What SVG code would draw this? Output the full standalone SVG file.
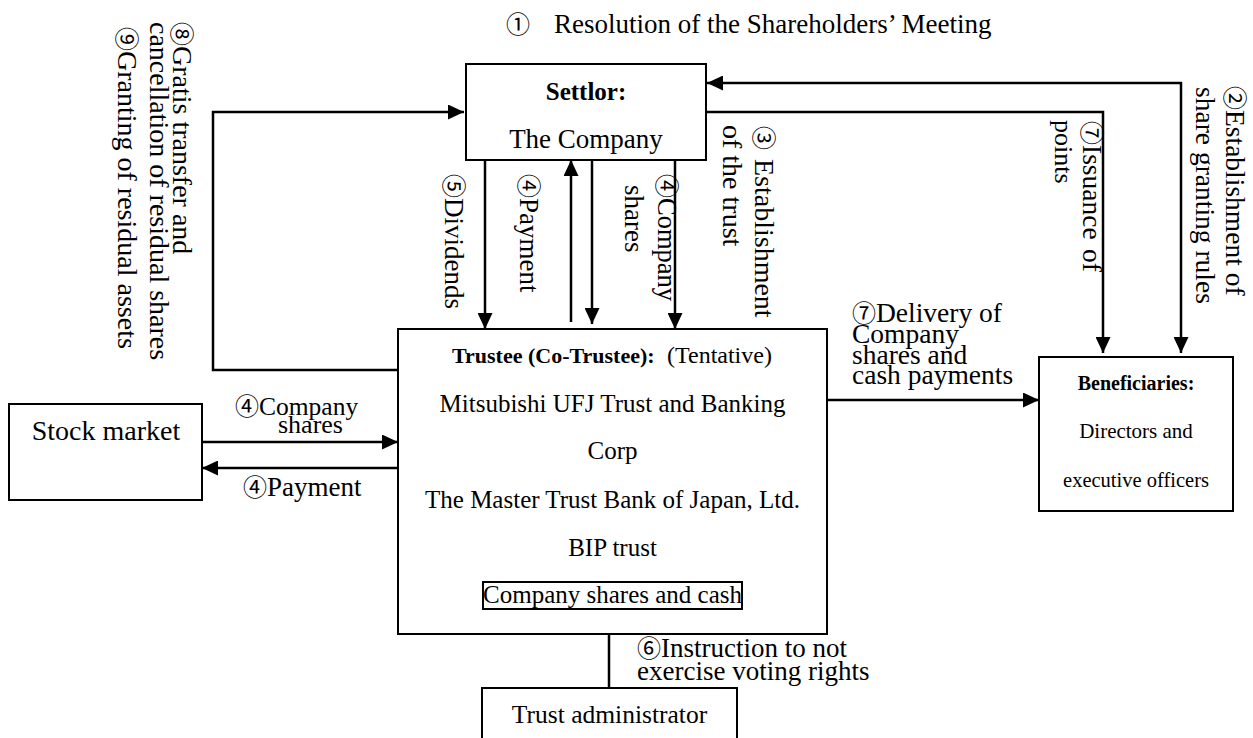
<svg xmlns="http://www.w3.org/2000/svg" width="1253" height="738" viewBox="0 0 1253 738">
<defs>
<style>
.t{font-family:"Liberation Serif","Noto Sans CJK JP",serif;fill:#000;}
.b{font-weight:bold;}
.cd{font-family:"Noto Sans CJK JP","DejaVu Sans",sans-serif;font-size:24px;}
.box{fill:#fff;stroke:#000;stroke-width:2;}
.ln{fill:none;stroke:#000;stroke-width:2.5;}
.m{text-anchor:middle;}
</style>
<marker id="ah" markerUnits="userSpaceOnUse" markerWidth="16" markerHeight="15" refX="16" refY="7.5" orient="auto-start-reverse" viewBox="0 0 16 15">
<path d="M0,0 L16,7.5 L0,15 Z" fill="#000"/>
</marker>
</defs>
<rect x="0" y="0" width="1253" height="738" fill="#fff"/>

<g id="connectors">
<path class="ln" d="M398,370 H213 V112 H464" marker-end="url(#ah)"/>
<path class="ln" d="M707,83 H1181 V353" marker-start="url(#ah)" marker-end="url(#ah)"/>
<path class="ln" d="M706,112 H1103 V353" marker-end="url(#ah)"/>
<path class="ln" d="M485,160 V329" marker-end="url(#ah)"/>
<path class="ln" d="M571,322 V160" marker-end="url(#ah)"/>
<path class="ln" d="M592,157 V324" marker-end="url(#ah)"/>
<path class="ln" d="M675,160 V329" marker-end="url(#ah)"/>
<path class="ln" d="M202,442 H398" marker-end="url(#ah)"/>
<path class="ln" d="M398,468 H202" marker-end="url(#ah)"/>
<path class="ln" d="M827,400 H1039" marker-end="url(#ah)"/>
<path class="ln" d="M609,634 V688"/>
</g>

<g id="settlor">
<rect class="box" x="466" y="64" width="240" height="96"/>
<text class="t b m" font-size="25" x="586" y="100">Settlor:</text>
<text class="t m" font-size="27" x="586" y="148">The Company</text>
</g>

<g id="trustee">
<rect class="box" x="398" y="329" width="429" height="305"/>
<text class="t" y="363"><tspan class="b" x="452" font-size="22">Trustee (Co-Trustee):</tspan><tspan x="667" font-size="24">(Tentative)</tspan></text>
<text class="t m" font-size="25" x="612.5" y="412">Mitsubishi UFJ Trust and Banking</text>
<text class="t m" font-size="25" x="612.5" y="459">Corp</text>
<text class="t m" font-size="25" x="612.5" y="508">The Master Trust Bank of Japan, Ltd.</text>
<text class="t m" font-size="25" x="612.5" y="556">BIP trust</text>
<rect class="box" x="483" y="582" width="259" height="27"/>
<text class="t m" font-size="25" x="612.5" y="603">Company shares and cash</text>
</g>

<g id="beneficiaries">
<rect class="box" x="1039" y="357" width="194" height="154"/>
<text class="t b m" font-size="20" x="1136" y="390">Beneficiaries:</text>
<text class="t m" font-size="21" x="1136" y="438">Directors and</text>
<text class="t m" font-size="20.5" x="1136" y="487">executive officers</text>
</g>

<g id="stock-market">
<rect class="box" x="9" y="404" width="193" height="96"/>
<text class="t m" font-size="28" x="106" y="440">Stock market</text>
</g>

<g id="trust-administrator">
<rect class="box" x="482" y="688" width="255" height="60"/>
<text class="t m" font-size="25.5" x="609.5" y="723">Trust administrator</text>
</g>

<g id="labels">
<text class="t" font-size="27" y="33"><tspan class="cd" x="506">①</tspan><tspan x="554">Resolution of the Shareholders’ Meeting</tspan></text>

<text class="t" font-size="28" transform="translate(173,22) rotate(90)"><tspan class="cd">⑧</tspan>Gratis transfer and</text>
<text class="t" font-size="28" transform="translate(150,22) rotate(90)">cancellation of residual shares</text>
<text class="t" font-size="28" transform="translate(118,27) rotate(90)"><tspan class="cd">⑨</tspan>Granting of residual assets</text>

<text class="t" font-size="27" transform="translate(445,174) rotate(90)"><tspan class="cd">⑤</tspan>Dividends</text>
<text class="t" font-size="27" transform="translate(520,174) rotate(90)"><tspan class="cd">④</tspan>Payment</text>
<text class="t" font-size="26.5" transform="translate(658,174) rotate(90)"><tspan class="cd">④</tspan>Company</text>
<text class="t" font-size="27" transform="translate(625,185) rotate(90)">shares</text>
<text class="t" font-size="28" transform="translate(755,126) rotate(90)"><tspan class="cd">③</tspan><tspan x="33">Establishment</tspan></text>
<text class="t" font-size="28" transform="translate(723,125) rotate(90)">of the trust</text>

<text class="t" font-size="27.5" transform="translate(1083,121) rotate(90)"><tspan class="cd">⑦</tspan>Issuance<tspan x="128">of</tspan></text>
<text class="t" font-size="26" transform="translate(1055,120) rotate(90)">points</text>
<text class="t" font-size="27.5" transform="translate(1226,86) rotate(90)"><tspan class="cd">②</tspan>Establishment of</text>
<text class="t" font-size="27.5" transform="translate(1196,87) rotate(90)">share granting rules</text>

<text class="t" font-size="27.5" x="852" y="322"><tspan class="cd">⑦</tspan>Delivery of</text>
<text class="t" font-size="27.5" x="852" y="343">Company</text>
<text class="t" font-size="27.5" x="852" y="364">shares and</text>
<text class="t" font-size="27.5" x="852" y="384">cash payments</text>

<text class="t" font-size="25.5" x="235" y="415"><tspan class="cd">④</tspan>Company</text>
<text class="t" font-size="26" x="278" y="433">shares</text>
<text class="t" font-size="27" x="243" y="496"><tspan class="cd">④</tspan>Payment</text>

<text class="t" font-size="27" x="637" y="657"><tspan class="cd">⑥</tspan>Instruction to not</text>
<text class="t" font-size="27" x="637" y="680">exercise voting rights</text>
</g>
</svg>
